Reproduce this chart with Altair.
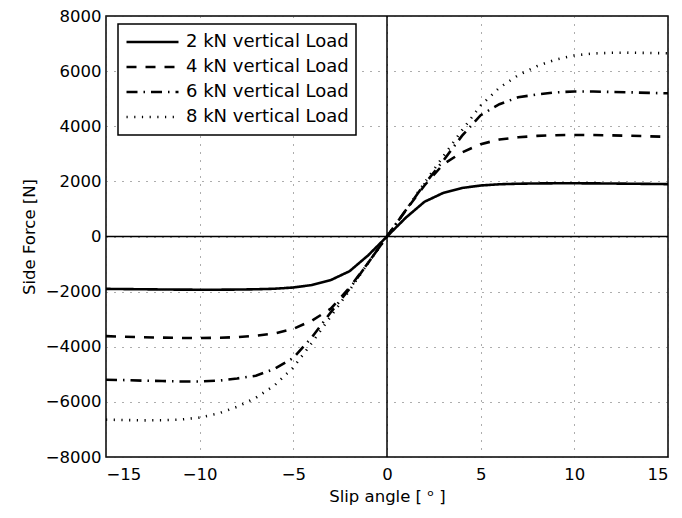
import altair as alt
import pandas as pd

slip = list(range(-15, 16))
load_names = ["2 kN vertical Load", "4 kN vertical Load", "6 kN vertical Load", "8 kN vertical Load"]

f_2kN = [-1900, -1908, -1915, -1922, -1928, -1930, -1930, -1925, -1915, -1895, -1850, -1760, -1580, -1260, -680,
         0, 680, 1260, 1580, 1760, 1850, 1895, 1915, 1925, 1930, 1930, 1928, 1922, 1915, 1908, 1900]
f_4kN = [-3615, -3635, -3655, -3670, -3680, -3685, -3675, -3650, -3600, -3520, -3350, -3050, -2620, -1850, -950,
         0, 950, 1850, 2620, 3050, 3350, 3520, 3600, 3650, 3675, 3685, 3680, 3670, 3655, 3635, 3615]
f_6kN = [-5195, -5210, -5230, -5245, -5260, -5260, -5230, -5150, -5050, -4800, -4400, -3650, -2750, -1900, -950,
         0, 950, 1900, 2750, 3650, 4400, 4800, 5050, 5150, 5230, 5260, 5260, 5245, 5230, 5210, 5195]
f_8kN = [-6645, -6660, -6670, -6665, -6640, -6570, -6420, -6180, -5850, -5400, -4750, -3850, -2900, -1950, -950,
         0, 950, 1950, 2900, 3850, 4750, 5400, 5850, 6180, 6420, 6570, 6640, 6665, 6670, 6660, 6645]

x_ticks = [-15, -10, -5, 0, 5, 10, 15]
y_ticks = [-8000, -6000, -4000, -2000, 0, 2000, 4000, 6000, 8000]

rows = []
for name, vals in zip(load_names, [f_2kN, f_4kN, f_6kN, f_8kN]):
    for a, v in zip(slip, vals):
        rows.append({"slip": a, "force": v, "load": name})
df = pd.DataFrame(rows)

FONT = "DejaVu Sans"

x_scale = alt.Scale(domain=[-15, 15], nice=False, zero=False)
y_scale = alt.Scale(domain=[-8000, 8000], nice=False, zero=False)

lines = alt.Chart(df).mark_line(color="black", strokeWidth=2.6, strokeCap="butt", clip=True).encode(
    x=alt.X("slip:Q", scale=x_scale,
            axis=alt.Axis(values=x_ticks, title="Slip angle [ ᵒ ]", format="d")),
    y=alt.Y("force:Q", scale=y_scale,
            axis=alt.Axis(values=y_ticks, title="Side Force [N]", format="d")),
    strokeDash=alt.StrokeDash(
        "load:N",
        scale=alt.Scale(domain=load_names,
                        range=[[1, 0], [10, 9], [11, 6, 1.5, 6], [1.2, 6.5]]),
        legend=alt.Legend(title=None, orient="none", legendX=12, legendY=8,
                          symbolType="stroke", symbolSize=2704, symbolStrokeWidth=2.6,
                          symbolStrokeColor="black", labelFontSize=18, labelFont=FONT,
                          labelColor="black", rowPadding=3, labelOffset=6, clipHeight=22,
                          labelLimit=400,
                          fillColor="white", strokeColor="black", padding=7),
    ),
    detail="load:N",
)

zero_df = pd.DataFrame({"v": [0]})
vzero = alt.Chart(zero_df).mark_rule(color="black", strokeWidth=1.5).encode(x=alt.X("v:Q", scale=x_scale))
hzero = alt.Chart(zero_df).mark_rule(color="black", strokeWidth=1.5).encode(y=alt.Y("v:Q", scale=y_scale))

chart = alt.layer(vzero, hzero, lines).properties(
    width=562, height=441,
    autosize=alt.AutoSizeParams(type="none"),
    padding={"left": 98, "top": 8, "right": 6, "bottom": 53},
).configure_view(
    stroke="black", strokeWidth=1.5
).configure_legend(
    strokeWidth=1.5
).configure_axis(
    labelFont=FONT, titleFont=FONT, labelFontSize=16.5, titleFontSize=16.5,
    labelColor="black", titleColor="black", titleFontWeight="normal",
    domain=False, ticks=False, labelPadding=5,
    grid=True, gridColor="#333333", gridDash=[1, 7], gridWidth=1, gridOpacity=0.8,
).configure_axisX(labelPadding=9, titlePadding=6).configure_axisY(titlePadding=8)

chart.save("out.html", embed_options={"renderer": "svg", "actions": False})
